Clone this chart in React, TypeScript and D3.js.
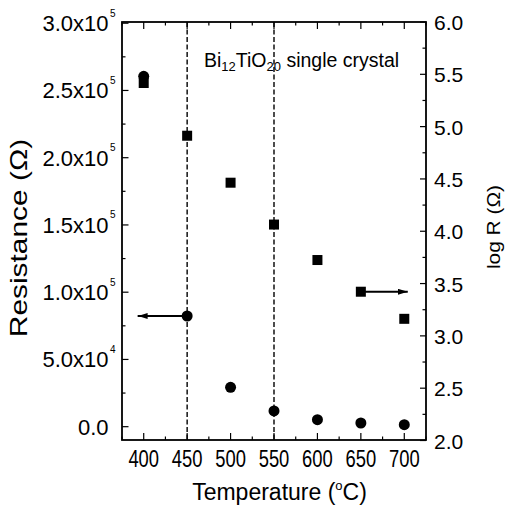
import * as d3 from "d3";

const temps = [400, 450, 500, 550, 600, 650, 700];
const resistance = [260500, 82300, 29300, 11700, 5200, 2750, 1500];
const logR = [5.417, 4.913, 4.464, 4.064, 3.725, 3.422, 3.163];

const xTicks = [400, 450, 500, 550, 600, 650, 700];
const leftTicks = [0, 50000, 100000, 150000, 200000, 250000, 300000];
const leftLabels = ["0.0", "5.0x10", "1.0x10", "1.5x10", "2.0x10", "2.5x10", "3.0x10"];
const leftExps = ["", "4", "5", "5", "5", "5", "5"];
const rightTicks = [2.0, 2.5, 3.0, 3.5, 4.0, 4.5, 5.0, 5.5, 6.0];
const dashedAt = [450, 550];
// arrows: [from T, to T, value] (left arrow on resistance, right arrow on log R)
const leftArrow = [450, 393, 82300];
const rightArrow = [650, 704, 3.422];

const W = 509;
const H = 510;
const FONT = "'Liberation Sans', Arial, Helvetica, sans-serif";

export default function App() {
  const x = d3.scaleLinear().domain([375, 725]).range([122, 426]);
  const yL = d3.scaleLinear().domain([-9900, 300900]).range([440, 22]);
  const yR = d3.scaleLinear().domain([2, 6]).range([440.5, 22]);

  const xMinor = d3.range(375, 726, 25);
  const lMinor = d3.range(0, 300001, 25000);
  const rMinor = d3.range(2, 6.001, 0.25);

  const [l0, l1, lv] = leftArrow;
  const [r0, r1, rv] = rightArrow;

  return (
    <svg
      width={W}
      height={H}
      style={{ position: "absolute", left: 0, top: 0, background: "#fff" }}
      fontFamily={FONT}
    >
      <defs>
        <marker id="ah" viewBox="0 0 10 6" refX="10" refY="3" markerWidth="10" markerHeight="6" markerUnits="userSpaceOnUse" orient="auto">
          <path d="M0,0 L10,3 L0,6 Z" fill="#000" />
        </marker>
      </defs>

      {/* dashed guides */}
      {dashedAt.map((t) => (
        <line key={t} x1={x(t)} x2={x(t)} y1={22} y2={440} stroke="#000" strokeWidth={1.4} strokeDasharray="5,2.5" />
      ))}

      {/* x ticks, bottom and top */}
      {xMinor.map((t) => {
        const major = t % 50 === 0;
        const len = major ? 7 : 3.5;
        return (
          <g key={t}>
            <line x1={x(t)} x2={x(t)} y1={440} y2={440 - len} stroke="#000" strokeWidth={1.2} />
            <line x1={x(t)} x2={x(t)} y1={22} y2={22 + len} stroke="#000" strokeWidth={1.2} />
          </g>
        );
      })}
      {xTicks.map((t) => (
        <text key={t} transform={`translate(${x(t)},467) scale(0.8,1)`} textAnchor="middle" fontSize={23}>
          {t}
        </text>
      ))}

      {/* left axis */}
      {lMinor.map((v) => {
        const major = v % 50000 === 0;
        return <line key={v} x1={122} x2={122 + (major ? 6.5 : 3.5)} y1={yL(v)} y2={yL(v)} stroke="#000" strokeWidth={1.2} />;
      })}
      {leftTicks.map((v, i) => (
        <g key={v}>
          <text x={108.5} y={yL(v) + 8} textAnchor="end" fontSize={22}>
            {leftLabels[i]}
          </text>
          {leftExps[i] && (
            <text x={110} y={yL(v) - 6.5} fontSize={10}>
              {leftExps[i]}
            </text>
          )}
        </g>
      ))}

      {/* right axis */}
      {rMinor.map((v) => {
        const major = Math.abs(v * 2 - Math.round(v * 2)) < 1e-6;
        return <line key={v} x1={426} x2={426 - (major ? 6 : 3.5)} y1={yR(v)} y2={yR(v)} stroke="#000" strokeWidth={1.2} />;
      })}
      {rightTicks.map((v) => (
        <text key={v} x={434} y={yR(v) + 8} fontSize={21}>
          {v.toFixed(1)}
        </text>
      ))}

      {/* frame */}
      <rect x={122} y={22} width={304} height={418} fill="none" stroke="#000" strokeWidth={1.8} />

      {/* arrows */}
      <line x1={x(l0)} x2={x(l1)} y1={yL(lv)} y2={yL(lv)} stroke="#000" strokeWidth={2} markerEnd="url(#ah)" />
      <line x1={x(r0)} x2={x(r1)} y1={yR(rv)} y2={yR(rv)} stroke="#000" strokeWidth={2} markerEnd="url(#ah)" />

      {/* data */}
      {temps.map((t, i) => (
        <circle key={"c" + t} cx={x(t)} cy={yL(resistance[i])} r={5.5} fill="#000" />
      ))}
      {temps.map((t, i) => (
        <rect key={"s" + t} x={x(t) - 5} y={yR(logR[i]) - 5} width={10} height={10} fill="#000" />
      ))}

      {/* annotation */}
      <text x={204} y={66.7} fontSize={19.5}>
        Bi<tspan fontSize={13} dy={4}>12</tspan>
        <tspan dy={-4}>TiO</tspan>
        <tspan fontSize={13} dy={4}>20</tspan>
        <tspan dy={-4}> single crystal</tspan>
      </text>

      {/* axis titles */}
      <text x={279.5} y={500} textAnchor="middle" fontSize={23}>
        Temperature (<tspan fontSize={13} dy={-10}>o</tspan>
        <tspan dy={10}>C)</tspan>
      </text>
      <text transform="translate(26.5,238) rotate(-90) scale(1.3,1)" textAnchor="middle" fontSize={23}>
        Resistance (Ω)
      </text>
      <text transform="translate(500,227) rotate(-90) scale(1.1,1)" textAnchor="middle" fontSize={19}>
        log R (Ω)
      </text>
    </svg>
  );
}
